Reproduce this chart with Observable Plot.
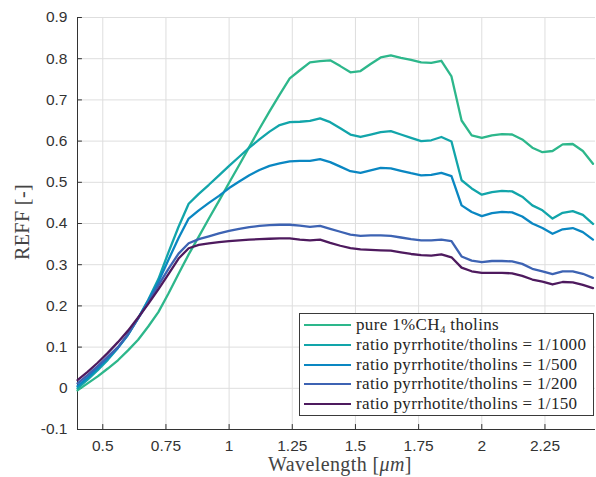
<!DOCTYPE html>
<html><head><meta charset="utf-8">
<script src="https://cdn.jsdelivr.net/npm/d3@7"></script>
<script src="https://cdn.jsdelivr.net/npm/@observablehq/plot@0.6"></script>
<style>
body{margin:0;background:#fff;}
#wrap{position:relative;width:596px;height:477px;overflow:hidden;}
#legend{position:absolute;left:299px;top:313px;width:295px;height:103px;border:1px solid #3a3a3a;background:#fff;box-sizing:border-box;font-family:"Liberation Serif","DejaVu Serif",serif;font-size:17px;letter-spacing:0.35px;color:#262626;}
.row{position:absolute;left:0;height:20px;display:flex;align-items:center;white-space:nowrap;}
.sw{width:47px;height:0;border-top:2.4px solid;margin-left:4px;margin-right:5px;}
sub{font-size:11px;vertical-align:-3px;}
</style></head>
<body><div id="wrap"></div>
<script>
const wavelength = [0.40,0.44,0.48,0.52,0.56,0.60,0.64,0.68,0.72,0.76,0.80,0.84,0.88,0.92,0.96,1.00,1.04,1.08,1.12,1.16,1.20,1.24,1.28,1.32,1.36,1.40,1.44,1.48,1.52,1.56,1.60,1.64,1.68,1.72,1.76,1.80,1.84,1.88,1.92,1.96,2.00,2.04,2.08,2.12,2.16,2.20,2.24,2.28,2.32,2.36,2.40,2.44];
const pure = [-0.005,0.012,0.029,0.048,0.068,0.092,0.118,0.150,0.185,0.230,0.278,0.325,0.368,0.412,0.455,0.499,0.542,0.586,0.630,0.672,0.713,0.752,0.772,0.791,0.794,0.796,0.782,0.767,0.770,0.787,0.803,0.808,0.802,0.797,0.791,0.790,0.795,0.757,0.650,0.614,0.608,0.614,0.617,0.616,0.604,0.584,0.573,0.576,0.592,0.593,0.576,0.545];
const r1000 = [0.000,0.021,0.044,0.069,0.098,0.130,0.170,0.215,0.265,0.330,0.392,0.448,0.472,0.494,0.517,0.540,0.562,0.584,0.604,0.623,0.639,0.646,0.647,0.649,0.655,0.646,0.631,0.616,0.610,0.616,0.622,0.624,0.616,0.608,0.600,0.602,0.610,0.599,0.505,0.485,0.470,0.476,0.479,0.478,0.465,0.444,0.432,0.412,0.426,0.430,0.421,0.399];
const r500 = [0.005,0.026,0.049,0.073,0.098,0.130,0.170,0.213,0.258,0.312,0.365,0.412,0.432,0.450,0.467,0.486,0.502,0.517,0.530,0.540,0.546,0.551,0.552,0.552,0.556,0.549,0.538,0.527,0.523,0.529,0.535,0.534,0.528,0.522,0.517,0.518,0.523,0.515,0.444,0.428,0.418,0.425,0.428,0.427,0.417,0.400,0.389,0.375,0.386,0.389,0.379,0.361];
const r200 = [0.012,0.032,0.054,0.077,0.100,0.132,0.170,0.208,0.250,0.290,0.327,0.352,0.362,0.369,0.376,0.382,0.387,0.391,0.394,0.396,0.397,0.397,0.395,0.392,0.394,0.387,0.380,0.373,0.370,0.371,0.371,0.370,0.366,0.362,0.359,0.359,0.361,0.357,0.320,0.310,0.306,0.309,0.309,0.308,0.302,0.290,0.284,0.277,0.284,0.284,0.278,0.268];
const r150 = [0.020,0.040,0.062,0.086,0.112,0.140,0.172,0.205,0.240,0.277,0.315,0.340,0.348,0.352,0.355,0.357,0.359,0.361,0.362,0.363,0.364,0.364,0.361,0.359,0.361,0.353,0.346,0.340,0.337,0.336,0.335,0.334,0.330,0.326,0.323,0.322,0.325,0.318,0.293,0.284,0.280,0.280,0.280,0.279,0.273,0.264,0.259,0.252,0.258,0.257,0.251,0.243];

const seriesNames = ["pure 1%CH4 tholins","ratio pyrrhotite/tholins = 1/1000","ratio pyrrhotite/tholins = 1/500","ratio pyrrhotite/tholins = 1/200","ratio pyrrhotite/tholins = 1/150"];
const seriesLegendHTML = ["pure 1%CH<sub>4</sub> tholins","ratio pyrrhotite/tholins = 1/1000","ratio pyrrhotite/tholins = 1/500","ratio pyrrhotite/tholins = 1/200","ratio pyrrhotite/tholins = 1/150"];
const seriesColors = ["#2db78b","#12a5aa","#0a87c2","#3d63b3","#4e1a5e"];
const seriesValues = [pure, r1000, r500, r200, r150];

const xTicks = [0.5,0.75,1,1.25,1.5,1.75,2,2.25];
const xTickLabels = ["0.5","0.75","1","1.25","1.5","1.75","2","2.25"];
const yTicks = [-0.1,0,0.1,0.2,0.3,0.4,0.5,0.6,0.7,0.8,0.9];
const yTickLabels = ["-0.1","0","0.1","0.2","0.3","0.4","0.5","0.6","0.7","0.8","0.9"];
const xDomain = [0.4, 2.45];
const yDomain = [-0.1, 0.9];

const rows = [];
seriesValues.forEach((vals, s) => vals.forEach((v, i) => rows.push({series: seriesNames[s], x: wavelength[i], y: v})));

const tickLenX = (xDomain[1]-xDomain[0]) * 0.0095;
const tickLenY = (yDomain[1]-yDomain[0]) * 0.012;

const plot = Plot.plot({
  width: 596, height: 477,
  marginLeft: 77, marginRight: 1, marginTop: 17, marginBottom: 48,
  style: {fontFamily: "'Liberation Sans', Arial, sans-serif", fontSize: "15.5px", color: "#333", background: "#fff"},
  x: {domain: xDomain},
  y: {domain: yDomain},
  color: {domain: seriesNames, range: seriesColors},
  marks: [
    Plot.gridX(xTicks, {stroke: "#dedede", strokeOpacity: 1}),
    Plot.gridY(yTicks, {stroke: "#dedede", strokeOpacity: 1}),
    Plot.ruleX(xTicks, {x: d => d, y1: yDomain[0], y2: yDomain[0] + tickLenY, stroke: "#333"}),
    Plot.ruleY(yTicks, {y: d => d, x1: xDomain[0], x2: xDomain[0] + tickLenX, stroke: "#333"}),
    Plot.ruleY([yDomain[0]], {stroke: "#333"}),
    Plot.ruleX([xDomain[0]], {stroke: "#333"}),
    Plot.line(rows, {x: "x", y: "y", z: "series", stroke: "series", strokeWidth: 2.3, strokeLinejoin: "round"}),
    Plot.axisX(xTicks, {tickSize: 0, tickPadding: 10, tickFormat: (d, i) => xTickLabels[i], label: null, fill: "#333"}),
    Plot.axisY(yTicks, {tickSize: 0, tickPadding: 10, tickFormat: (d, i) => yTickLabels[i], label: null, fill: "#333"})
  ]
});

const svg = d3.select(plot);
const xt = svg.append("text")
  .attr("x", 340).attr("y", 471)
  .attr("text-anchor", "middle")
  .attr("font-family", "'Liberation Serif', 'DejaVu Serif', serif")
  .attr("font-size", 20).attr("letter-spacing", 0.4).attr("fill", "#444");
xt.append("tspan").text("Wavelength [");
xt.append("tspan").attr("font-style", "italic").text("μm");
xt.append("tspan").text("]");
svg.append("text")
  .attr("transform", "translate(22,222) rotate(-90)")
  .attr("text-anchor", "middle").attr("dominant-baseline", "central")
  .attr("font-family", "'Liberation Serif', 'DejaVu Serif', serif")
  .attr("font-size", 20).attr("letter-spacing", 0.4).attr("fill", "#444")
  .text("REFF [-]");

const wrap = document.getElementById("wrap");
wrap.appendChild(plot);

const legend = document.createElement("div");
legend.id = "legend";
const rowCenters = [10.7, 30.5, 50.5, 70.3, 90];
seriesLegendHTML.forEach((html, i) => {
  const r = document.createElement("div");
  r.className = "row";
  r.style.top = (rowCenters[i] - 10) + "px";
  r.innerHTML = `<span class="sw" style="border-color:${seriesColors[i]}"></span><span>${html}</span>`;
  legend.appendChild(r);
});
wrap.appendChild(legend);
</script>
</body></html>
